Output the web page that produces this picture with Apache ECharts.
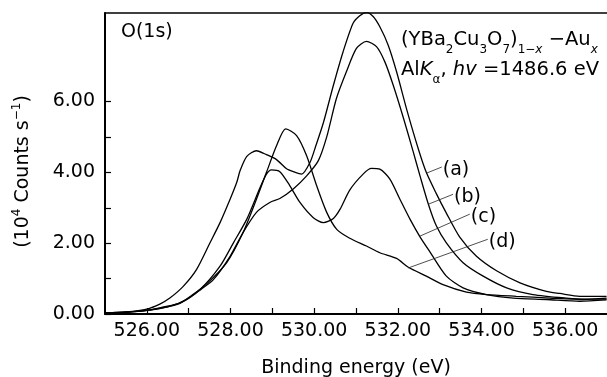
<!DOCTYPE html>
<html>
<head>
<meta charset="utf-8">
<script src="https://cdn.jsdelivr.net/npm/echarts@6/dist/echarts.min.js"></script>
<style>
  html, body { margin: 0; padding: 0; background: #fff; }
  #main { width: 607px; height: 377px; }
</style>
</head>
<body>
<div id="main"></div>
<script>
// O(1s) spectra, binding energy (eV) vs 10^4 counts/s
const curveA = [[525,0.03],[525.5,0.06],[526,0.14],[526.31,0.28],[526.55,0.45],[526.87,0.78],[527.19,1.26],[527.51,2.01],[527.75,2.58],[527.99,3.24],[528.15,3.72],[528.23,4.05],[528.39,4.45],[528.62,4.61],[528.86,4.5],[529.1,4.36],[529.34,4.1],[529.5,4.02],[529.7,3.95],[529.9,4.28],[530.04,4.75],[530.22,5.4],[530.46,6.46],[530.69,7.4],[530.93,8.21],[531.09,8.42],[531.25,8.52],[531.41,8.4],[531.57,8.11],[531.77,7.59],[531.97,6.84],[532.23,5.7],[532.49,4.66],[532.68,4.0],[532.92,3.4],[533.16,2.85],[533.48,2.17],[533.88,1.63],[534.36,1.22],[534.92,0.88],[535.55,0.64],[535.87,0.58],[536.35,0.5],[536.99,0.5]];
const curveB = [[525,0.03],[525.5,0.05],[526,0.1],[526.5,0.2],[526.95,0.41],[527.3,0.7],[527.59,0.97],[527.99,1.63],[528.3,2.3],[528.62,2.87],[528.94,3.15],[529.18,3.26],[529.5,3.53],[529.82,3.9],[530.1,4.33],[530.3,5.0],[530.53,6.08],[530.77,6.84],[531.01,7.5],[531.25,7.7],[531.49,7.55],[531.69,7.12],[531.89,6.46],[532.13,5.55],[532.37,4.57],[532.53,3.9],[532.73,3.1],[532.92,2.49],[533.16,2.01],[533.56,1.45],[534.04,1.07],[534.6,0.74],[535.23,0.55],[536.03,0.45],[536.5,0.42],[536.99,0.42]];
const curveC = [[525,0.03],[525.5,0.05],[526,0.1],[526.4,0.18],[526.79,0.3],[527.27,0.69],[527.75,1.35],[528.07,2.01],[528.39,2.68],[528.7,3.55],[528.86,3.95],[528.98,4.07],[529.18,4.02],[529.42,3.62],[529.66,3.15],[529.98,2.72],[530.22,2.58],[530.46,2.7],[530.62,2.96],[530.85,3.5],[531.17,3.95],[531.37,4.11],[531.57,4.09],[531.81,3.81],[532.05,3.24],[532.29,2.68],[532.53,2.18],[532.77,1.75],[533.16,1.07],[533.56,0.74],[534.12,0.55],[534.76,0.45],[535.55,0.41],[536.35,0.36],[536.99,0.4]];
const curveD = [[525,0.03],[525.5,0.05],[526,0.1],[526.4,0.2],[526.79,0.31],[527.1,0.55],[527.43,0.85],[527.91,1.45],[528.3,2.3],[528.62,3.24],[528.86,4.0],[529.1,4.75],[529.32,5.23],[529.58,5.04],[529.82,4.47],[530.06,3.62],[530.3,2.87],[530.54,2.39],[530.85,2.14],[531.25,1.92],[531.57,1.73],[531.97,1.57],[532.25,1.32],[532.68,1.07],[533.08,0.83],[533.64,0.62],[534.12,0.55],[534.83,0.5],[535.63,0.45],[536.43,0.41],[536.99,0.45]];

const curveNames = ['(a)', '(b)', '(c)', '(d)'];
// leader line ends for the (a)..(d) tags, in data units
const leaders = [
    [[532.69, 3.98], [533.05, 4.15]],
    [[532.73, 3.1], [533.32, 3.38]],
    [[532.53, 2.2], [533.72, 2.82]],
    [[532.25, 1.3], [534.15, 2.11]]
];

const xTicks = [526, 527, 528, 529, 530, 531, 532, 533, 534, 535, 536];
const xLabels = [526, 528, 530, 532, 534, 536];
const yTicks = [0, 1, 2, 3, 4, 5, 6];
const yLabels = [0, 2, 4, 6];

const FONT = 'DejaVu Sans';

let myChart = echarts.init(document.getElementById('main'));

const series = [curveA, curveB, curveC, curveD].map(function (d, i) {
    return {
        name: curveNames[i],
        type: 'line',
        data: d,
        showSymbol: false,
        smooth: 0.25,
        lineStyle: { color: '#000', width: 1.3 },
        markLine: {
            silent: true,
            symbol: 'none',
            lineStyle: { color: '#222', width: 0.8, type: 'solid' },
            label: { show: false },
            data: [[{ coord: leaders[i][0] }, { coord: leaders[i][1] }]]
        },
        // tag text at the outer end of the leader
        markPoint: {
            silent: true,
            symbol: 'circle',
            symbolSize: 0,
            label: {
                show: true,
                position: 'right',
                distance: 1,
                offset: [0, 3],
                formatter: curveNames[i],
                color: '#000',
                fontFamily: FONT,
                fontSize: 19
            },
            data: [{ coord: leaders[i][1] }]
        }
    };
});

const option = {
    animation: false,
    grid: {
        left: 105,
        top: 13,
        right: 0,
        bottom: 63,
        outerBoundsMode: 'none'
    },
    xAxis: [
        {
            type: 'value',
            min: 525,
            max: 537,
            name: 'Binding energy (eV)',
            nameLocation: 'middle',
            nameGap: 45,
            nameTextStyle: { color: '#000', fontFamily: FONT, fontSize: 19 },
            axisLine: { lineStyle: { color: '#000', width: 2 } },
            axisTick: { inside: true, length: 6, customValues: xTicks, lineStyle: { color: '#000', width: 1.2 } },
            axisLabel: {
                customValues: xLabels,
                formatter: function (v) { return v.toFixed(2); },
                color: '#000',
                fontFamily: FONT,
                fontSize: 19,
                margin: 8
            },
            splitLine: { show: false }
        },
        {
            type: 'value',
            position: 'top',
            min: 525,
            max: 537,
            axisLine: { show: true, onZero: false, lineStyle: { color: '#000', width: 1.5 } },
            axisTick: { show: false },
            axisLabel: { show: false },
            splitLine: { show: false }
        }
    ],
    yAxis: {
        type: 'value',
        min: 0,
        max: 8.5,
        name: '{n|(10}{sup|4}{n| Counts s}{sup|−1}{n|)}',
        nameLocation: 'middle',
        nameRotate: 90,
        nameGap: 70,
        nameTextStyle: {
            color: '#000',
            padding: [0, 16, 0, 0],
            rich: {
                n: { fontFamily: FONT, fontSize: 19, color: '#000', lineHeight: 24 },
                sup: { fontFamily: FONT, fontSize: 12, color: '#000', verticalAlign: 'top', lineHeight: 24 }
            }
        },
        axisLine: { show: true, lineStyle: { color: '#000', width: 2 } },
        axisTick: { show: true, inside: true, length: 6, customValues: yTicks, lineStyle: { color: '#000', width: 1.2 } },
        axisLabel: {
            customValues: yLabels,
            formatter: function (v) { return v.toFixed(2); },
            color: '#000',
            fontFamily: FONT,
            fontSize: 19,
            margin: 10
        },
        splitLine: { show: false }
    },
    graphic: [
        {
            type: 'text',
            left: 121,
            top: 23,
            style: { text: 'O(1s)', fill: '#000', font: '19px "DejaVu Sans"' }
        },
        {
            type: 'text',
            left: 401,
            top: 30,
            style: {
                text: '{n|(YBa}{s|2}{n|Cu}{s|3}{n|O}{s|7}{n|)}{s|1−}{si|x}{n| −Au}{si|x}',
                rich: {
                    n: { fontFamily: FONT, fontSize: 19.5, fill: '#000', lineHeight: 26, verticalAlign: 'top' },
                    s: { fontFamily: FONT, fontSize: 12, fill: '#000', lineHeight: 17, verticalAlign: 'bottom' },
                    si: { fontFamily: FONT, fontSize: 12, fontStyle: 'italic', fill: '#000', lineHeight: 17, verticalAlign: 'bottom' }
                }
            }
        },
        {
            type: 'text',
            left: 401,
            top: 60,
            style: {
                text: '{n|Al}{i|K}{s|α}{n|, }{i|hv}{n| =1486.6 eV}',
                rich: {
                    n: { fontFamily: FONT, fontSize: 19.5, fill: '#000', lineHeight: 26, verticalAlign: 'top' },
                    i: { fontFamily: FONT, fontSize: 19.5, fontStyle: 'italic', fill: '#000', lineHeight: 26, verticalAlign: 'top' },
                    s: { fontFamily: FONT, fontSize: 12, fill: '#000', lineHeight: 17, verticalAlign: 'bottom' }
                }
            }
        }
    ],
    series: series
};

myChart.setOption(option);
window.addEventListener('resize', () => {
    myChart.resize()
})
</script>
</body>
</html>
